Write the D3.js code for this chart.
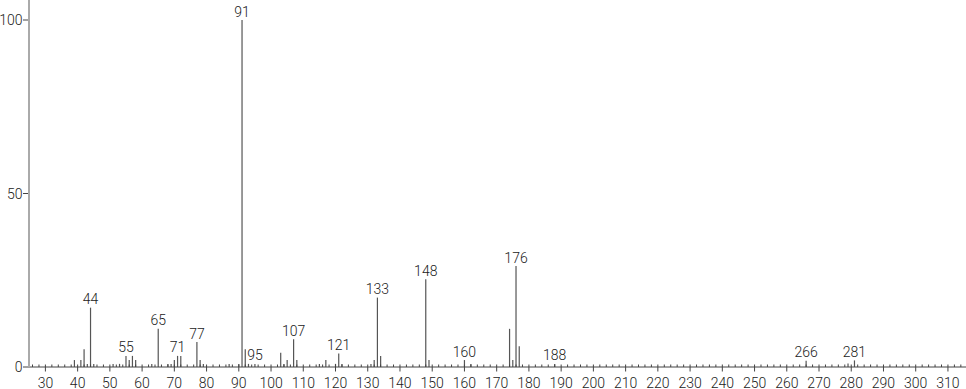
<!DOCTYPE html>
<html>
<head>
<meta charset="utf-8">
<script src="https://cdn.jsdelivr.net/npm/d3@7"></script>
<style>
  html, body { margin: 0; padding: 0; background: #fff; }
  svg text { font-family: Roboto, "Open Sans", sans-serif; font-weight: 300; fill: #222; }
</style>
</head>
<body>
<svg id="chart" width="966" height="389"></svg>
<script>
// m/z values of the peaks
const mz = [39, 41, 42, 43, 44, 45, 51, 53, 55, 56, 57, 58, 63, 65, 68, 69, 70, 71, 72,
  77, 78, 79, 87, 90, 91, 92, 93, 95, 103, 104, 105, 107, 108, 115, 117, 120, 121, 122,
  131, 132, 133, 134, 148, 149, 160, 162, 174, 175, 176, 177, 188, 266, 279, 281];
// relative intensities (%)
const intensity = [2.0, 2.0, 5.1, 0.9, 17.1, 0.9, 0.9, 0.9, 3.2, 2.0, 3.2, 2.0, 0.9, 11.0, 0.9, 0.9, 2.0, 3.2, 3.2,
  7.2, 2.0, 0.9, 0.9, 0.9, 100, 5.1, 0.9, 0.9, 4.1, 0.9, 2.0, 8.0, 2.0, 0.9, 2.0, 0.9, 3.9, 0.9,
  0.9, 2.0, 20.0, 3.2, 25.3, 2.0, 2.0, 0.9, 11.0, 2.0, 29.1, 6.0, 0.9, 1.8, 1.0, 1.9];
// peaks that carry a label
const labeledPeaks = [44, 55, 65, 71, 77, 91, 95, 107, 121, 133, 148, 160, 176, 188, 266, 281];
// axis ticks
const xMajorTicks = d3.range(30, 311, 10);
const xMinorTicks = d3.range(26, 315, 2).filter(v => v % 10 !== 0);
const yTicks = [0, 50, 100];

const svg = d3.select("#chart");
const x = d3.scaleLinear().domain([24.6, 315.6]).range([28, 966]);
const y = d3.scaleLinear().domain([0, 100]).range([367, 20]);

const peaks = mz.map((m, i) => ({ m, v: intensity[i] }));

// peaks
svg.append("g").selectAll("line").data(peaks).join("line")
  .attr("x1", d => x(d.m)).attr("x2", d => x(d.m))
  .attr("y1", y(0)).attr("y2", d => y(d.v))
  .attr("stroke", "#555").attr("stroke-width", 1.2);

// peak labels
svg.append("g").selectAll("text").data(peaks.filter(d => labeledPeaks.includes(d.m))).join("text")
  .attr("x", d => x(d.m)).attr("y", d => y(d.v) - 3.5)
  .attr("text-anchor", "middle").attr("font-size", 14)
  .text(d => d.m);

// x axis
const gx = svg.append("g");
gx.append("line").attr("x1", 28).attr("x2", 966).attr("y1", y(0)).attr("y2", y(0))
  .attr("stroke", "#444").attr("stroke-width", 1);
gx.selectAll("line.minor").data(xMinorTicks).join("line").attr("class", "minor")
  .attr("x1", d => x(d)).attr("x2", d => x(d))
  .attr("y1", y(0) - 2.5).attr("y2", y(0))
  .attr("stroke", "#444").attr("stroke-width", 1);
gx.selectAll("line.major").data(xMajorTicks).join("line").attr("class", "major")
  .attr("x1", d => x(d)).attr("x2", d => x(d))
  .attr("y1", y(0) - 2.5).attr("y2", y(0) + 4.5)
  .attr("stroke", "#444").attr("stroke-width", 1);
gx.selectAll("text").data(xMajorTicks).join("text")
  .attr("x", d => x(d)).attr("y", 387.5)
  .attr("text-anchor", "middle").attr("font-size", 14)
  .text(d => d);

// y axis
const gy = svg.append("g");
gy.append("line").attr("x1", 29).attr("x2", 29).attr("y1", 0).attr("y2", y(0))
  .attr("stroke", "#aaa").attr("stroke-width", 2);
gy.selectAll("line.tick").data(yTicks).join("line").attr("class", "tick")
  .attr("x1", 23).attr("x2", 28).attr("y1", d => y(d)).attr("y2", d => y(d))
  .attr("stroke", "#444").attr("stroke-width", 1);
gy.selectAll("text").data(yTicks).join("text")
  .attr("x", 22.5).attr("y", d => y(d)).attr("dy", "0.36em")
  .attr("text-anchor", "end").attr("font-size", 14)
  .text(d => d);
</script>
</body>
</html>
